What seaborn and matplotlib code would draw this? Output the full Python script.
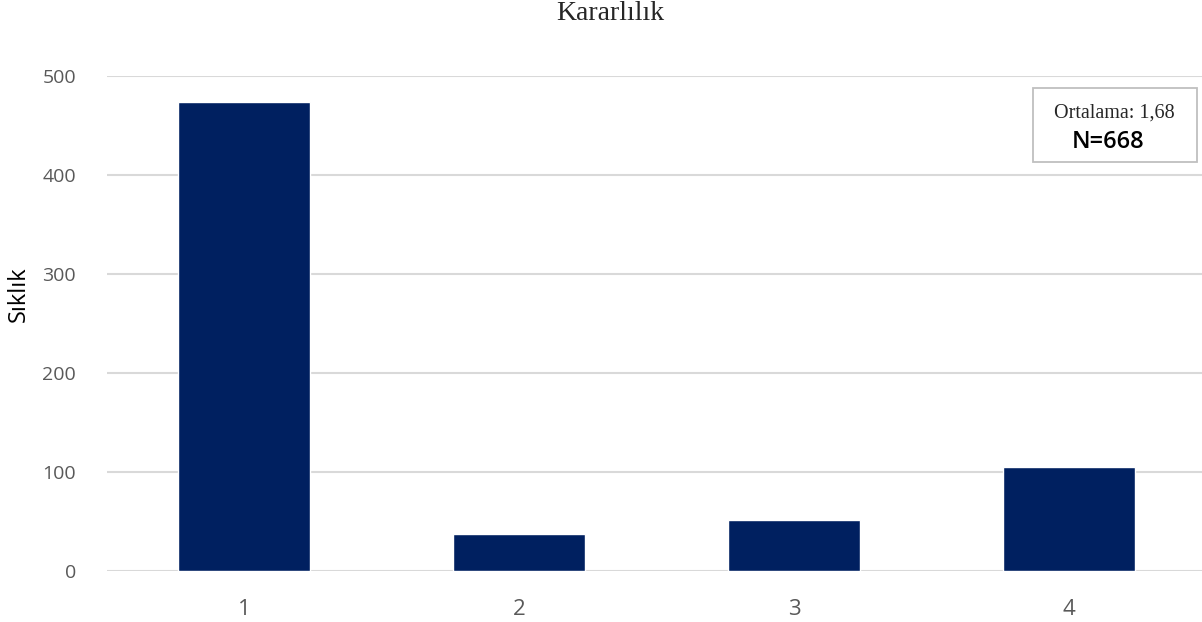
import matplotlib
matplotlib.use("Agg")
import matplotlib.pyplot as plt
import seaborn as sns
import pandas as pd
from matplotlib.patches import Rectangle

categories = ["1", "2", "3", "4"]
frequencies = [474, 37, 52, 105]
title_text = "Kararlılık"
ylabel_text = "Sıklık"
mean_text = "Ortalama: 1,68"
n_text = "N=668"
yticks = [0, 100, 200, 300, 400, 500]

sns.set_theme(style="white")
plt.rcParams['font.family'] = ['Open Sans', 'DejaVu Sans']

W, H = 1202, 622
fig = plt.figure(figsize=(W / 100, H / 100), dpi=100)
ax = fig.add_axes([106.5 / W, 1 - 571 / H, (1206.5 - 106.5) / W, (571 - 76) / H])

df = pd.DataFrame({"cat": categories, "freq": frequencies})
sns.barplot(data=df, x="cat", y="freq", color="#002060", saturation=1,
            width=0.48, ax=ax, zorder=3)

ax.set_ylim(0, 500)
ax.set_yticks(yticks)
ax.yaxis.grid(True, color="#d9d9d9", linewidth=1.5, zorder=0)
ax.set_axisbelow(True)
for s in ax.spines.values():
    s.set_visible(False)
ax.tick_params(axis="both", length=0, colors="#595959", labelsize=14)
ax.tick_params(axis="y", pad=22)
ax.tick_params(axis="x", pad=20)
for lbl in ax.get_xticklabels():
    lbl.set_fontsize(16)
ax.set_xlabel("")
ax.set_ylabel("")

fig.text(610 / W, 1 - 14 / H, title_text, ha="center", va="center",
         fontsize=20, family=["Liberation Serif", "DejaVu Serif"], color="#262626")
fig.text(19 / W, 1 - 294 / H, ylabel_text, ha="center", va="center",
         rotation=90, fontsize=17, color="black")

box = Rectangle((1033 / W, 1 - 162 / H), (1197 - 1033) / W, (162 - 88) / H,
                transform=fig.transFigure, facecolor="white",
                edgecolor="#bfbfbf", linewidth=1.3, zorder=5)
fig.add_artist(box)
fig.text(1114 / W, 1 - 113 / H, mean_text, ha="center", va="center",
         fontsize=14.5, family=["Liberation Serif", "DejaVu Serif"], color="#262626", zorder=6)
fig.text(1108 / W, 1 - 142 / H, n_text, ha="center", va="center",
         fontsize=17, fontweight="semibold", color="black", zorder=6)

fig.savefig("out.png", dpi=100)
